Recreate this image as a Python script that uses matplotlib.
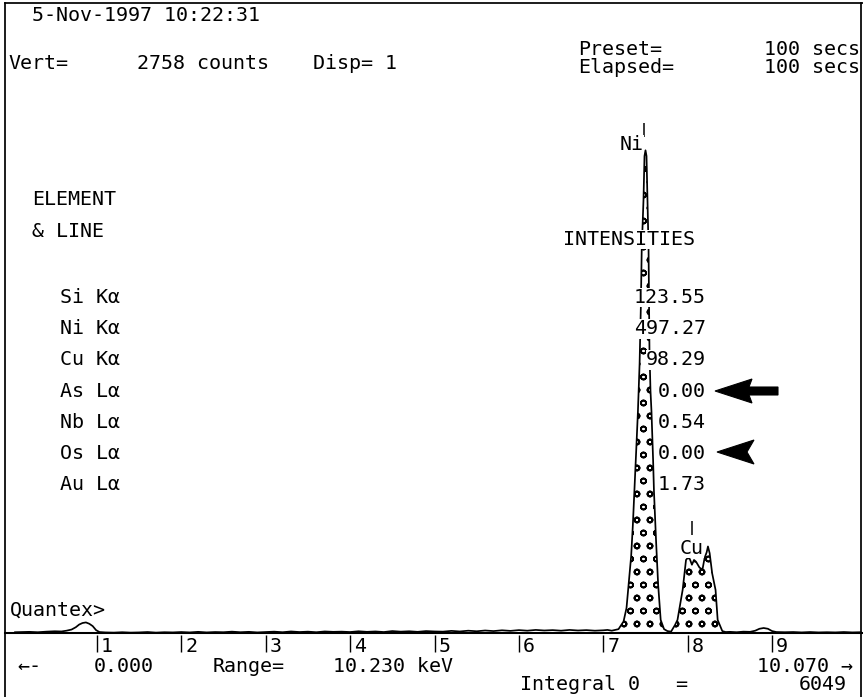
import numpy as np
import matplotlib
matplotlib.use("Agg")
import matplotlib.pyplot as plt
from matplotlib.patches import Polygon
from matplotlib.lines import Line2D

# printout geometry (pixels) and a low dpi so the circle hatch gets the plotter spacing
W, H = 863, 697
DPI = 78
FS = 18.5

# spectrum: energy in keV, counts
energy = [0.03, 0.10, 0.20, 0.30, 0.40, 0.50, 0.58, 0.64, 0.70, 0.75, 0.79, 0.83, 0.87, 0.91, 0.95, 0.99,
          1.03, 1.10, 1.20, 1.30, 1.40, 1.50, 1.60, 1.70, 1.80, 1.90, 2.00, 2.10, 2.20, 2.30, 2.40, 2.50,
          2.60, 2.70, 2.80, 2.90, 3.00, 3.10, 3.20, 3.30, 3.40, 3.50, 3.60, 3.70, 3.80, 3.90, 4.00, 4.10,
          4.20, 4.30, 4.40, 4.50, 4.60, 4.70, 4.80, 4.90, 5.00, 5.10, 5.20, 5.30, 5.40, 5.50, 5.60, 5.70,
          5.80, 5.90, 6.00, 6.10, 6.20, 6.30, 6.40, 6.50, 6.60, 6.70, 6.80, 6.90, 7.00, 7.05,
          # Ni K-alpha
          7.10, 7.18, 7.24, 7.275, 7.30, 7.33, 7.35, 7.37, 7.39, 7.41, 7.43, 7.445, 7.455, 7.465, 7.476,
          7.488, 7.500, 7.512, 7.524, 7.536, 7.547, 7.559, 7.571, 7.590, 7.600, 7.625, 7.650, 7.680,
          7.720, 7.760, 7.790,
          # Cu K-alpha / Ni K-beta
          7.800, 7.850, 7.879, 7.940, 7.980, 8.000, 8.025, 8.050, 8.075, 8.100, 8.140, 8.175, 8.200,
          8.225, 8.240, 8.260, 8.290, 8.330, 8.355, 8.410, 8.450,
          8.50, 8.58, 8.66, 8.74, 8.80, 8.85, 8.90, 8.95, 9.00, 9.05, 9.15, 9.25, 9.35, 9.45, 9.55, 9.65,
          9.75, 9.85, 9.95, 10.05]
counts = [4, 5, 6, 4, 7, 9, 8, 12, 18, 30, 44, 52, 55, 48, 36, 15,
          5, 3, 2, 4, 2, 3, 5, 2, 4, 3, 5, 3, 6, 3, 5, 4,
          7, 4, 6, 3, 5, 7, 4, 8, 5, 7, 4, 8, 6, 7, 5, 9,
          6, 8, 5, 10, 7, 9, 6, 10, 8, 7, 11, 8, 12, 9, 13, 10,
          14, 11, 15, 12, 16, 13, 15, 12, 16, 13, 15, 12, 14, 16,
          12, 20, 60, 130, 250, 400, 560, 750, 950, 1150, 1400, 1700, 1990, 2120, 2250,
          2480, 2510, 2480, 2250, 2000, 1470, 1260, 1150, 900, 740, 480, 250, 68,
          20, 10, 8,
          5, 42, 68, 224, 380, 390, 385, 355, 380, 370, 340, 330, 390,
          420, 450, 415, 310, 224, 68, 10, 5,
          6, 4, 7, 6, 12, 22, 26, 22, 10, 5, 4, 5, 3, 5, 3, 4,
          3, 5, 3, 4]

# shaded regions of interest (keV)
roi_ranges = [(7.09, 7.77), (7.80, 8.46)]

tick_kev = [1, 2, 3, 4, 5, 6, 7, 8, 9]

# KLM markers
marker_names = ["Ni", "Cu"]
marker_kev = [7.478, 8.048]

elements = ["Si Kα", "Ni Kα", "Cu Kα", "As Lα", "Nb Lα", "Os Lα", "Au Lα"]
intensities = ["123.55", "497.27", "98.29", "0.00", "0.54", "0.00", "1.73"]

# pixel <-> data scale of the printout
KEV0_PX, PX_PER_KEV = 12.5, 84.4
BASE_PX, COUNTS_PER_PX = 633, 5.2


def fp(x, y):
    """printout pixel -> figure fraction"""
    return x / W, 1 - y / H


def cy(py):
    """printout pixel row -> counts"""
    return (BASE_PX - py) * COUNTS_PER_PX


plt.rcParams['font.family'] = ['DejaVu Sans Mono']
plt.rcParams['hatch.linewidth'] = 1.6

fig = plt.figure(figsize=(W / DPI, H / DPI), dpi=DPI)
ax = fig.add_axes([0, 0, 1, 1])
ax.set_xlim(-KEV0_PX / PX_PER_KEV, (W - KEV0_PX) / PX_PER_KEV)
ax.set_ylim(cy(H), cy(0))
ax.axis('off')

e = np.array(energy)
c = np.array(counts)
for lo, hi in roi_ranges:
    m = (e >= lo) & (e <= hi)
    ax.fill_between(e, c, 0, where=m, facecolor='white', edgecolor='black',
                    hatch='o', linewidth=0, zorder=1)
ax.plot(e, c, color='black', lw=1.6, zorder=2)

# axis line and keV ticks
ax.axhline(0, xmin=5 / W, color='black', lw=1.9, zorder=3)
ax.vlines(tick_kev, cy(635), cy(652), color='black', lw=1.3)
for k in tick_kev:
    ax.text(k + 4 / PX_PER_KEV, cy(652), str(k), fontsize=FS, va='baseline', ha='left')

# KLM marker lines + element labels
ax.vlines(marker_kev[0], cy(137), cy(123), color='black', lw=1.4)
ax.vlines(marker_kev[1], cy(535), cy(521), color='black', lw=1.4)
ax.text(marker_kev[0] - 24 / PX_PER_KEV, cy(150), marker_names[0], fontsize=FS, va='baseline',
        bbox=dict(fc='white', ec='none', pad=0.3), zorder=4)
ax.text(marker_kev[1] - 12 / PX_PER_KEV, cy(554), marker_names[1], fontsize=FS, va='baseline',
        bbox=dict(fc='white', ec='none', pad=0.3), zorder=4)


def txt(x, y, s, ha='left', box=False):
    kw = dict(fontsize=FS, ha=ha, va='baseline', transform=fig.transFigure, zorder=5)
    if box:
        kw['bbox'] = dict(fc='white', ec='none', pad=0.3)
    fig.text(*fp(x, y), s, **kw)


# header
txt(32, 21, "5-Nov-1997 10:22:31")
txt(8, 69, "Vert=")
txt(137, 69, "2758 counts")
txt(313, 69, "Disp= 1")
txt(578, 55, "Preset=")
txt(860, 55, "100 secs", ha='right')
txt(578, 73, "Elapsed=")
txt(860, 73, "100 secs", ha='right')

# element table
txt(32, 205, "ELEMENT")
txt(32, 237, "& LINE")
txt(563, 245, "INTENSITIES", box=True)
for i, (el, val) in enumerate(zip(elements, intensities)):
    y = 303 + i * 31.2
    txt(60, y, el)
    txt(706, y, val, ha='right', box=True)

# arrows pointing at the 0.00 rows
arrow1 = [(715, 391), (752, 379), (749, 387), (778, 387), (778, 395), (749, 395), (752, 403)]
arrow2 = [(717, 452), (754, 440), (747, 452), (754, 464)]
for pts in (arrow1, arrow2):
    fig.add_artist(Polygon([fp(x, y) for x, y in pts], closed=True, facecolor='black',
                           edgecolor='black', transform=fig.transFigure))

# footer
txt(10, 616, "Quantex>")
txt(17, 672, "←-")
txt(94, 672, "0.000")
txt(213, 672, "Range=")
txt(333, 672, "10.230 keV")
txt(853, 672, "10.070 →", ha='right')
txt(520, 690, "Integral 0")
txt(675, 690, "=")
txt(847, 690, "6049", ha='right')

# frame of the printout
for xs, ys in [((5, 5), (3, H)), ((5, W), (3, 3)), ((861, 861), (3, H))]:
    fig.add_artist(Line2D([x / W for x in xs], [1 - y / H for y in ys], color='black', lw=1.6,
                          transform=fig.transFigure))

fig.savefig("out.png", dpi=DPI, facecolor='white')
